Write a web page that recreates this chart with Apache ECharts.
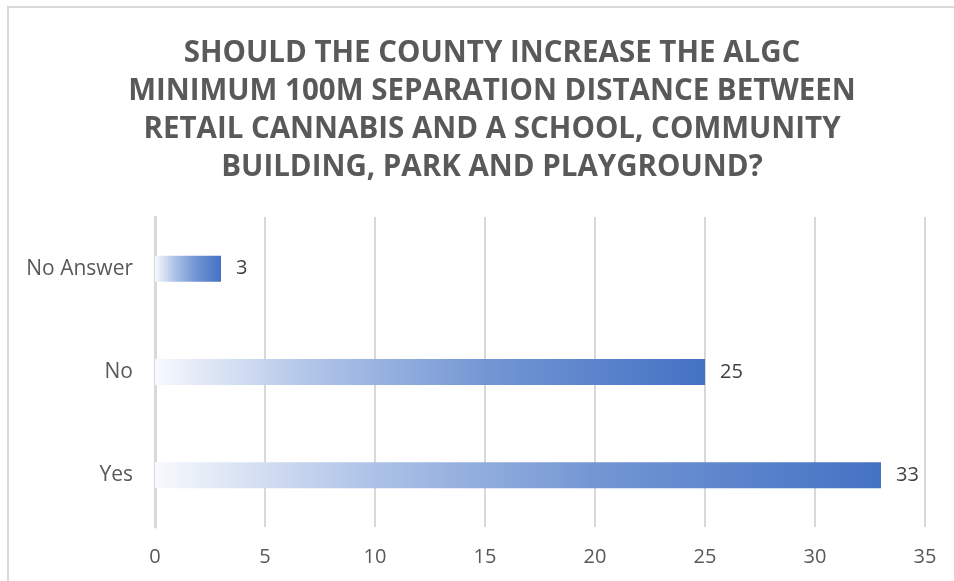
<!DOCTYPE html>
<html>
<head>
<meta charset="utf-8">
<script src="https://cdn.jsdelivr.net/npm/echarts@6/dist/echarts.min.js"></script>
<style>
html,body{margin:0;padding:0;background:#fff;}
#c{width:954px;height:581px;}
</style>
</head>
<body>
<div id="c"></div>
<script>
const titleLines = [
  'SHOULD THE COUNTY INCREASE THE ALGC',
  'MINIMUM 100M SEPARATION DISTANCE BETWEEN',
  'RETAIL CANNABIS AND A SCHOOL, COMMUNITY',
  'BUILDING, PARK AND PLAYGROUND?'
];
const categories = ['Yes', 'No', 'No Answer'];
const values = [33, 25, 3];
const xTicks = { min: 0, max: 35, interval: 5 };

const chart = echarts.init(document.getElementById('c'));
chart.setOption({
  backgroundColor: '#fff',
  animation: false,
  title: {
    text: titleLines.join('\n'),
    left: 487,
    textAlign: 'center',
    top: 30,
    textStyle: {
      fontFamily: 'Open Sans, sans-serif',
      fontWeight: 'bold',
      fontSize: 29.5,
      lineHeight: 38,
      color: '#595959'
    }
  },
  graphic: [{
    type: 'rect',
    shape: { x: 8, y: 7, width: 1000, height: 700 },
    style: { fill: 'none', stroke: '#d9d9d9', lineWidth: 2 },
    silent: true
  }],
  grid: { left: 155, right: 29, top: 217, bottom: 54, containLabel: false },
  xAxis: {
    type: 'value',
    min: xTicks.min, max: xTicks.max, interval: xTicks.interval,
    axisLine: { show: false },
    axisTick: { show: false },
    splitLine: { show: true, lineStyle: { color: '#d9d9d9', width: 2 } },
    axisLabel: { color: '#595959', fontSize: 20, fontFamily: 'Open Sans, sans-serif', margin: 20 }
  },
  yAxis: {
    type: 'category',
    data: categories,
    axisTick: { show: false },
    axisLine: { show: true, lineStyle: { color: '#d9d9d9', width: 3 } },
    axisLabel: { color: '#595959', fontSize: 21, fontFamily: 'Open Sans, sans-serif', margin: 22 }
  },
  series: [{
    type: 'bar',
    data: values,
    barWidth: 26,
    itemStyle: {
      color: new echarts.graphic.LinearGradient(0, 0, 1, 0, [
        { offset: 0, color: '#f7f9fd' },
        { offset: 0.3, color: '#adc2e6' },
        { offset: 0.6, color: '#7497d4' },
        { offset: 1, color: '#4472c4' }
      ])
    },
    label: {
      show: true,
      position: 'right',
      distance: 15,
      color: '#404040',
      fontSize: 20,
      fontFamily: 'Open Sans, sans-serif'
    }
  }]
});
</script>
</body>
</html>
